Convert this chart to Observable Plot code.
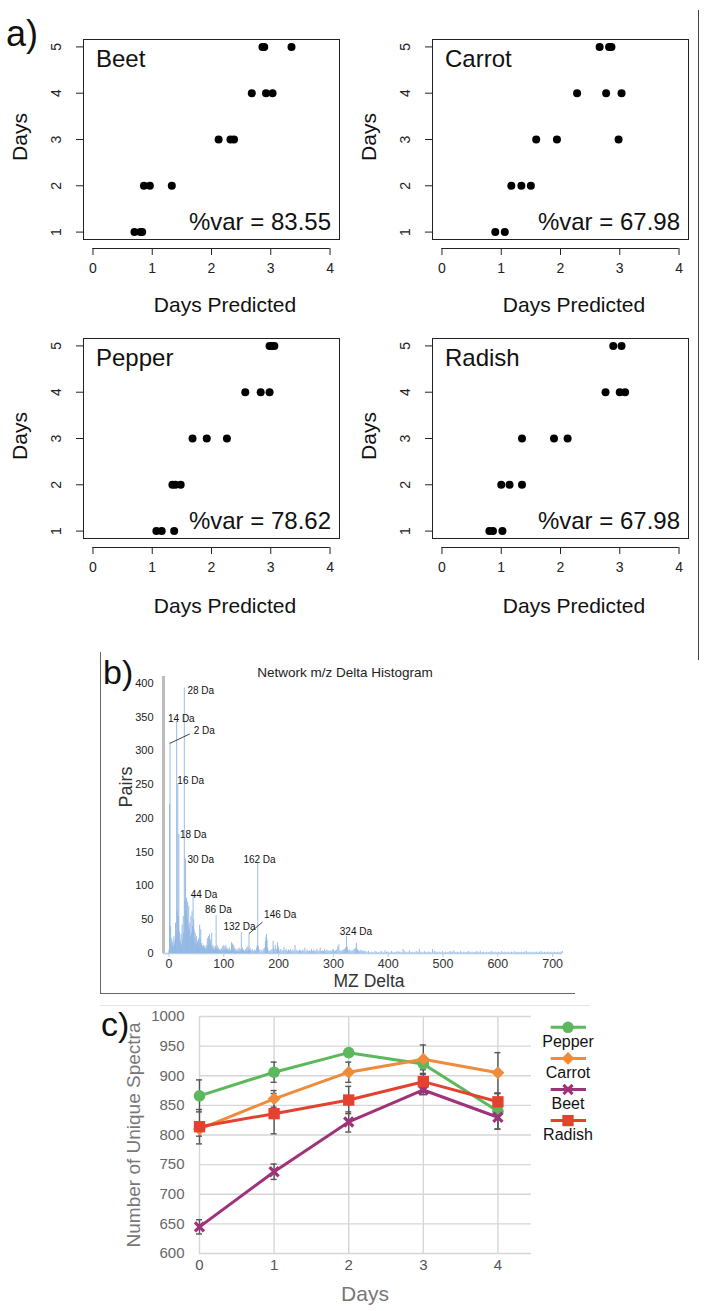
<!DOCTYPE html>
<html><head><meta charset="utf-8">
<script src="https://cdn.jsdelivr.net/npm/d3@7"></script>
<script src="https://cdn.jsdelivr.net/npm/@observablehq/plot@0.6"></script>
<style>
body{margin:0;background:#fff;font-family:"Liberation Sans",Arial,Helvetica,sans-serif;}
#root{position:relative;width:704px;height:1311px;overflow:hidden;background:#fff;}
.lbl{position:absolute;white-space:nowrap;line-height:1;}
.ln{position:absolute;}
</style></head><body><div id="root"></div>
<script>
// ---------- a) scatter data ----------
const cropNames = ["Beet", "Carrot", "Pepper", "Radish"];
const pctVar = ["83.55", "67.98", "78.62", "67.98"];
const scatterDays = [1, 2, 3, 4, 5];
const beetPred   = [[0.70,0.80,0.83],[0.86,0.96,1.33],[2.12,2.32,2.38],[2.68,2.92,3.03],[2.86,2.89,3.35]];
const carrotPred = [[0.90,1.06],[1.17,1.34,1.50],[1.59,1.94,2.98],[2.28,2.77,3.03],[2.66,2.82,2.86]];
const pepperPred = [[1.07,1.16,1.37],[1.34,1.39,1.48],[1.68,1.92,2.26],[2.57,2.83,2.98],[2.98,3.02,3.06]];
const radishPred = [[0.80,0.86,1.02],[1.00,1.14,1.35],[1.35,1.89,2.12],[2.76,3.00,3.09],[2.89,3.03]];
const scatterXTicks = [0, 1, 2, 3, 4];
const scatterYTicks = [1, 2, 3, 4, 5];

// ---------- b) histogram data ----------
const pairsLow = [5,221,312,40,15,22,12,18,10,25, 14,20,45,30,343,62,250,55,176,32,
  20,16,28,12,42,20,55,30,393,78, 140,60,82,50,76,40,70,35,45,25,
  55,30,62,40,86,50,35,22,30,15, 25,12,18,10,22,15,42,20,35,12,
  15,10,8,12,6,10,5,8,12,6, 22,10,25,12,28,15,20,10,30,8,
  12,6,10,5,8,10,56,8,12,5, 8,4,6,3,5,4,7,3,10,5,
  12,4,10,6,12,5,8,4,6,3, 8,4,5,3,16,8,14,5,12,4,
  8,3,6,3,5,2,6,3,8,2, 6,4,31,4,8,3,5,2,4,2, 6,3,8,3,10,5,29,5,8,3];
const peaksMid = [[150,4],[152,6],[154,3],[156,5],[158,4],[160,8],[161,12],[162,135],[163,10],[164,6],[166,4],[168,5],[170,3],[172,6],[174,8],[176,18],[177,24],[178,28],[179,20],[180,8],[182,4],[184,3],[186,5],[188,6],[190,18],[191,8],[192,5],[194,12],[196,6],[198,16],[199,10],[200,8],[202,4],[204,6],[206,3],[208,5],[210,9],[212,4],[214,6],[216,3],[218,5],[220,4],[222,6],[224,3],[226,5],[228,4],[230,12],[232,5],[234,4],[236,3],[238,5],[240,4],[242,3],[244,5],[246,4],[248,8],[250,3],[252,5],[254,3],[256,4],[258,3],[260,6],[262,3],[264,5],[266,3],[268,4],[270,6],[272,3],[274,4],[276,8],[278,3],[280,4],[282,3],[284,6],[286,3],[288,5],[290,4],[292,3],[294,4],[296,3],[298,5],[300,6],[302,3],[304,4],[306,5],[308,10],[310,13],[312,4],[314,3],[316,4],[318,5],[320,6],[322,8],[324,25],[325,10],[326,6],[328,4],[330,5],[332,4],[334,3],[336,5],[338,6],[340,8],[342,15],[343,6],[344,5],[346,4],[348,3],[350,5],[352,3],[354,4],[356,3],[358,3]];
const tailStart = 361, tailStep = 3;
const tailFloor = "231213212314221321232163124121326213122163212131212324121312123121231312121231212131212121312121231212121231212121212123";
const histXTicks = [0,100,200,300,400,500,600,700];
const histYTicks = [0,50,100,150,200,250,300,350,400];
const annLabels = ["28 Da","14 Da","2 Da","16 Da","18 Da","30 Da","162 Da","44 Da","86 Da","146 Da","132 Da","324 Da"];
const annMz     = [33.6, -1.8, 45, 15.3, 20, 33.6, 135.8, 39.6, 65.8, 173.5, 99.3, 311.6];
const annPairs  = [389, 347, 330, 255, 176, 138, 138, 87, 64, 57.5, 40, 32];
const leaderFrom = [[1.5,311],[146,29.5]];
const leaderTo   = [[38,325],[170.5,46.5]];

// ---------- c) line chart data ----------
const lcDays = [0, 1, 2, 3, 4];
const lcSeries = ["Pepper", "Carrot", "Beet", "Radish"];
const pepperVals = [866, 906, 939, 920, 840];
const carrotVals = [810, 861, 906, 928, 905];
const beetVals   = [645, 738, 822, 876, 830];
const radishVals = [814, 836, 859, 890, 856];
const pepperErr = [27, 17, 6, 10, 30];
const carrotErr = [12, 14, 17, 24, 34];
const beetErr   = [12, 13, 17, 8, 20];
const radishErr = [29, 34, 23, 12, 14];
const lcYTicks = [600,650,700,750,800,850,900,950,1000];

// ---------- helpers ----------
const root = document.getElementById("root");
const FONT = "Liberation Sans, Arial, Helvetica, sans-serif";
function txt(s, x, y, o = {}) {
  const d = document.createElement("div");
  d.className = "lbl"; d.textContent = s;
  d.style.fontSize = (o.size || 14) + "px";
  d.style.color = o.color || "#111";
  d.style.left = x + "px"; d.style.top = y + "px";
  if (o.font) d.style.fontFamily = o.font;
  const ax = o.anchor === "start" ? "0" : o.anchor === "end" ? "-100%" : "-50%";
  d.style.transform = `translate(${ax},-50%)` + (o.rotate ? ` rotate(${o.rotate}deg)` : "");
  root.appendChild(d);
}
function line(x, y, w, h, color) {
  const d = document.createElement("div");
  d.className = "ln";
  Object.assign(d.style, {left: x + "px", top: y + "px", width: w + "px", height: h + "px", background: color});
  root.appendChild(d);
}
function place(svg, left, top) {
  svg.style.position = "absolute";
  svg.style.left = left + "px";
  svg.style.top = top + "px";
  root.appendChild(svg);
}
const fmt = d => String(d);

// ---------- a) scatter panels ----------
const preds = [beetPred, carrotPred, pepperPred, radishPred];
const colOff = [0, 349], rowOff = [0, 299];
const xLo = -0.16, xHi = 4.16, yTop = 5.16, yBox = 0.84;
const yLo = yBox - 9 * ((yTop - yBox) / 200);
preds.forEach((pr, k) => {
  const col = k % 2, row = Math.floor(k / 2);
  const pts = [];
  pr.forEach((arr, i) => arr.forEach(p => pts.push({day: scatterDays[i], pred: p})));
  const svg = Plot.plot({
    width: 352, height: 320,
    marginLeft: 83, marginRight: 13, marginTop: 39, marginBottom: 72,
    x: {domain: [xLo, xHi], axis: null},
    y: {domain: [yLo, yTop], axis: null},
    style: {background: "none", overflow: "visible", fontFamily: FONT},
    marks: [
      Plot.frame({insetBottom: 9, stroke: "#222", strokeWidth: 1}),
      Plot.ruleY(scatterYTicks, {y: d => d, x1: xLo, x2: xLo, insetLeft: -7, stroke: "#222"}),
      Plot.text(scatterYTicks, {x: xLo, y: d => d, text: fmt, rotate: -90, dx: -27, fontSize: 14, fill: "#222"}),
      Plot.ruleY([yLo], {x1: scatterXTicks[0], x2: scatterXTicks[scatterXTicks.length - 1], stroke: "#222"}),
      Plot.ruleX(scatterXTicks, {x: d => d, y1: yLo, y2: yLo, insetBottom: -7, stroke: "#222"}),
      Plot.text(scatterXTicks, {x: d => d, y: yLo, dy: 20, text: fmt, fontSize: 14, fill: "#222"}),
      Plot.dot(pts, {x: "pred", y: "day", r: 4, fill: "#000", stroke: null})
    ]
  });
  place(svg, colOff[col], rowOff[row]);
  const bx = colOff[col] + 83, br = colOff[col] + 339, by = rowOff[row] + 39, bb = rowOff[row] + 239;
  txt(cropNames[k], bx + 13, by + 20, {size: 24, anchor: "start", color: "#111"});
  txt("%var = " + pctVar[k], br - 8, bb - 17, {size: 24, anchor: "end", color: "#111"});
  txt("Days", colOff[col] + 19, (by + bb) / 2 - 2, {size: 21, rotate: -90, color: "#111"});
  txt("Days Predicted", (bx + br) / 2 + 14, bb + 65 + row * 2, {size: 21, color: "#111"});
});
txt("a)", 6, 34, {size: 36, anchor: "start", color: "#111"});
line(698, 10, 1.3, 650, "#444");

// ---------- b) histogram ----------
const hist = [];
pairsLow.forEach((n, i) => hist.push({mz: i, n}));
peaksMid.forEach(([mz, n]) => hist.push({mz, n}));
for (let i = 0; i < tailFloor.length; i++) {
  const mz = tailStart + i * tailStep;
  if (mz <= 718) hist.push({mz, n: +tailFloor[i]});
}
const ann = annLabels.map((label, i) => ({label, x: annMz[i], y: annPairs[i]}));
const leaders = leaderFrom.map((f, i) => ({x1: f[0], y1: f[1], x2: leaderTo[i][0], y2: leaderTo[i][1]}));
const hxLo = -10, hxHi = 718;
const histSvg = Plot.plot({
  width: 704, height: 345,
  marginLeft: 163, marginRight: 142, marginTop: 26, marginBottom: 42,
  x: {domain: [hxLo, hxHi]},
  y: {domain: [0, 410]},
  style: {background: "none", overflow: "visible", fontFamily: FONT},
  marks: [
    Plot.ruleY([0], {stroke: "#b5cde8", strokeWidth: 1.5}),
    Plot.ruleX(hist, {x: "mz", y1: 0, y2: "n", stroke: "#8db4e2", strokeWidth: 0.9}),
    Plot.ruleX([hxLo], {stroke: "#bdbdbd", strokeWidth: 3}),
    Plot.axisY({ticks: histYTicks, tickFormat: fmt, label: null, tickSize: 0, tickPadding: 10, fontSize: 11, fill: "#222"}),
    Plot.axisX({ticks: histXTicks, tickFormat: fmt, label: null, tickSize: 4, tickPadding: 2, fontSize: 12.5, stroke: "#b5cde8", fill: "#333"}),
    Plot.link(leaders, {x1: "x1", y1: "y1", x2: "x2", y2: "y2", stroke: "#111", strokeWidth: 0.8}),
    Plot.text(ann, {x: "x", y: "y", text: "label", textAnchor: "start", fontSize: 10, fill: "#111"})
  ]
});
place(histSvg, 0, 650);
line(100, 652, 1, 342, "#666");
line(100, 993, 475, 1, "#666");
txt("b)", 103, 672, {size: 34, anchor: "start", color: "#111"});
txt("Network m/z Delta Histogram", 345, 673, {size: 13.5, color: "#222"});
txt("Pairs", 126, 787, {size: 18, rotate: -90, color: "#333"});
txt("MZ Delta", 369, 982, {size: 17.5, color: "#333"});

// ---------- c) line chart ----------
const lcVals = [pepperVals, carrotVals, beetVals, radishVals];
const lcErrs = [pepperErr, carrotErr, beetErr, radishErr];
const lcColors = ["#5cb85c", "#ef8c3b", "#a0327a", "#e4412e"];
const lcSymbols = ["circle", "diamond2", "times", "square"];
const lcR = [5.8, 5.8, 4.2, 6.4];
const lcData = [];
lcSeries.forEach((s, k) => lcDays.forEach((d, i) => lcData.push({series: s, k, day: d, v: lcVals[k][i], e: lcErrs[k][i]})));
const lcMarks = [
  Plot.ruleY(lcYTicks, {stroke: "#d6d6d6", strokeWidth: 1.4}),
  Plot.ruleX(lcDays, {stroke: "#d6d6d6", strokeWidth: 1.4}),
  Plot.axisY({ticks: lcYTicks, tickFormat: fmt, label: null, tickSize: 0, tickPadding: 15, fontSize: 15, fill: "#666"}),
  Plot.axisX({ticks: lcDays, tickFormat: fmt, label: null, tickSize: 0, tickPadding: 6, fontSize: 15, fill: "#555"})
];
lcSeries.forEach((s, k) => {
  lcMarks.push(Plot.line(lcData.filter(d => d.k === k), {x: "day", y: "v", stroke: lcColors[k], strokeWidth: 3}));
});
lcMarks.push(
  Plot.ruleX(lcData, {x: "day", y1: d => d.v - d.e, y2: d => d.v + d.e, stroke: "#555", strokeWidth: 1.4}),
  Plot.ruleY(lcData, {y: d => d.v + d.e, x1: "day", x2: "day", insetLeft: -3, insetRight: -3, stroke: "#555", strokeWidth: 1.4}),
  Plot.ruleY(lcData, {y: d => d.v - d.e, x1: "day", x2: "day", insetLeft: -3, insetRight: -3, stroke: "#555", strokeWidth: 1.4})
);
lcSeries.forEach((s, k) => {
  const sym = lcSymbols[k];
  const opts = sym === "times"
    ? {x: "day", y: "v", symbol: sym, r: lcR[k], stroke: lcColors[k], strokeWidth: 3.2}
    : {x: "day", y: "v", symbol: sym, r: lcR[k], fill: lcColors[k], stroke: null};
  lcMarks.push(Plot.dot(lcData.filter(d => d.k === k), opts));
});
const lcSvg = Plot.plot({
  width: 704, height: 311,
  marginLeft: 199, marginRight: 173, marginTop: 16, marginBottom: 58,
  x: {domain: [0, 4.45]},
  y: {domain: [600, 1000]},
  style: {background: "none", overflow: "visible", fontFamily: FONT},
  marks: lcMarks
});
place(lcSvg, 0, 1000);
line(100, 1005, 490, 1, "#e4e4e4");
txt("c)", 101, 1024, {size: 34, anchor: "start", color: "#111"});
txt("Number of Unique Spectra", 133, 1135, {size: 19, rotate: -90, color: "#777"});
txt("Days", 365, 1293, {size: 21, color: "#777"});

// legend
const lg = d3.create("svg").attr("width", 80).attr("height", 140)
  .style("position", "absolute").style("left", "528px").style("top", "1005px").style("overflow", "visible");
const symMap = {circle: d3.symbolCircle, diamond2: d3.symbolDiamond2, times: d3.symbolTimes, square: d3.symbolSquare};
lcSeries.forEach((s, k) => {
  const yy = 22.3 + k * 31.1;
  lg.append("line").attr("x1", 22.7).attr("x2", 58).attr("y1", yy).attr("y2", yy)
    .attr("stroke", lcColors[k]).attr("stroke-width", 3);
  const area = Math.PI * lcR[k] * lcR[k];
  const p = lg.append("path").attr("d", d3.symbol(symMap[lcSymbols[k]], area)())
    .attr("transform", `translate(40,${yy})`);
  if (lcSymbols[k] === "times") p.attr("fill", "none").attr("stroke", lcColors[k]).attr("stroke-width", 3.2);
  else p.attr("fill", lcColors[k]);
  lg.append("text").attr("x", 40).attr("y", yy + 14).attr("dy", "0.35em")
    .attr("text-anchor", "middle").attr("font-size", 16).attr("font-family", FONT)
    .attr("fill", "#111").text(s);
});
root.appendChild(lg.node());
</script></body></html>
